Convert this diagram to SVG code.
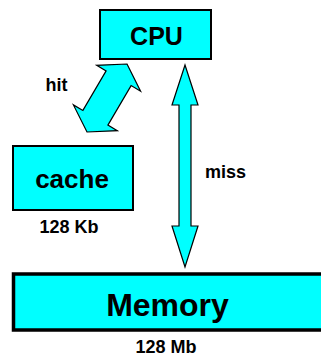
<svg xmlns="http://www.w3.org/2000/svg" width="321" height="356" viewBox="0 0 321 356">
<style>
.box{fill:#00FFFF;stroke:#000;stroke-width:2}
.arr{fill:#00FFFF;stroke:#000;stroke-width:1.2;stroke-linejoin:miter}
text{font-family:"Liberation Sans",Arial,sans-serif;font-weight:bold;fill:#000}
.big{text-anchor:middle}
.lbl{font-size:18px}
</style>
<rect width="321" height="356" fill="#fff"/>
<g id="connectors">
<polygon class="arr" points="127,64 140.6,91.2 131.1,85.6 107.9,125.1 117.3,130.7 87,132 73.4,104.9 82.9,110.4 106.1,70.9 96.7,65.3"/>
<polygon class="arr" points="185,65 198,105 191,105 191,226 198,226 185,267 172,226 179,226 179,105 172,105"/>
<text class="lbl" x="56.5" y="91" text-anchor="middle">hit</text>
<text class="lbl" x="205" y="178">miss</text>
</g>
<g id="cpu">
<rect class="box" x="100" y="10" width="111" height="49"/>
<text class="big" x="156.5" y="45" font-size="25">CPU</text>
</g>
<g id="cache">
<rect class="box" x="13" y="146" width="120" height="64"/>
<text class="big" x="72" y="188" font-size="26">cache</text>
<text class="big lbl" x="69" y="233">128 Kb</text>
</g>
<g id="memory">
<rect class="box" x="13.5" y="274" width="320" height="56" style="stroke-width:3.5"/>
<text class="big" x="167.5" y="316" font-size="32">Memory</text>
<text class="big lbl" x="166" y="353">128 Mb</text>
</g>
</svg>
